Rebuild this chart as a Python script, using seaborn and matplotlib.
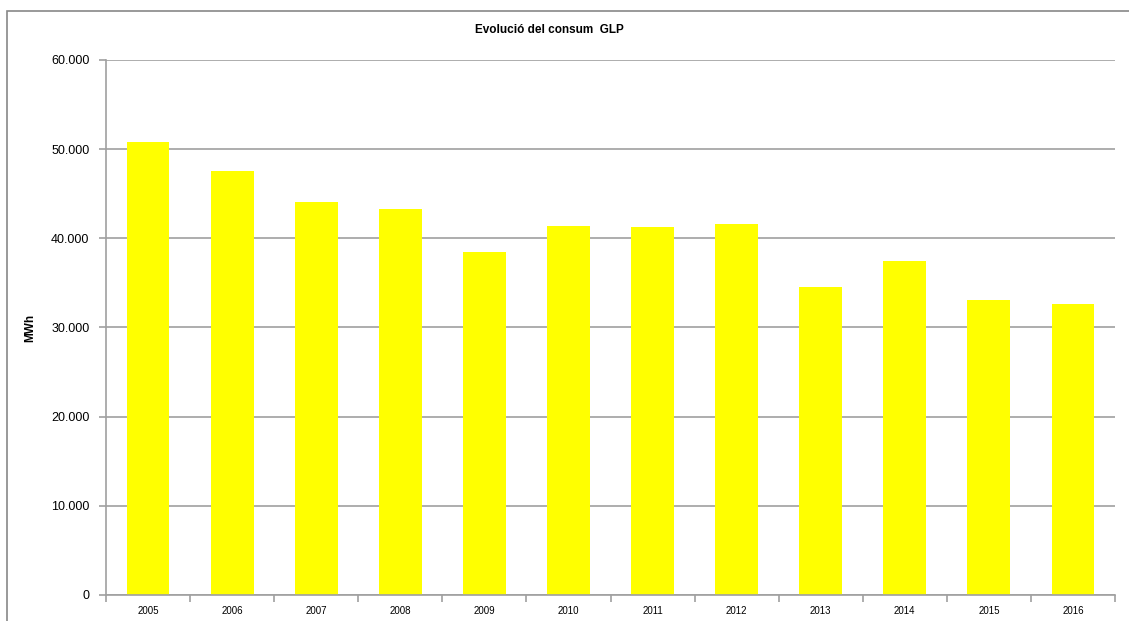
"""Evolució del consum GLP - gràfic de barres amb seaborn."""

import matplotlib
matplotlib.use("Agg")
import matplotlib.pyplot as plt
import matplotlib.ticker as mticker
from matplotlib.patches import Rectangle
import numpy as np
import pandas as pd
import seaborn as sns

anys = ["2005", "2006", "2007", "2008", "2009", "2010",
        "2011", "2012", "2013", "2014", "2015", "2016"]
consum_mwh = [50850, 47500, 44050, 43250, 38450, 41350,
              41250, 41600, 34500, 37450, 33050, 32600]
y_ticks = [0, 10000, 20000, 30000, 40000, 50000, 60000]

df = pd.DataFrame({"any": anys, "consum": consum_mwh})

sns.set_style("white")
plt.rcParams["font.family"] = ["Liberation Sans", "DejaVu Sans"]
plt.rcParams["text.color"] = "black"

fig = plt.figure(figsize=(11.29, 6.21), dpi=100)
ax = fig.add_axes([0.0939, 0.0419, 0.8937, 0.8615])

sns.barplot(data=df, x="any", y="consum", color="#ffff00", width=0.51,
            saturation=1, edgecolor="none", ax=ax)

# Eixos i reixa a l'estil Excel
ax.set_ylim(0, 60000)
ax.set_xlim(-0.5, len(anys) - 0.5)
ax.set_yticks(y_ticks)
ax.yaxis.set_major_formatter(
    mticker.FuncFormatter(lambda v, p: f"{int(v):,}".replace(",", ".")))
ax.grid(axis="y", color="#a0a0a0", linewidth=1.2)
ax.set_axisbelow(True)
for s in ["top", "right"]:
    ax.spines[s].set_visible(False)
for s in ["left", "bottom"]:
    ax.spines[s].set_color("#a0a0a0")
    ax.spines[s].set_linewidth(1.2)

ax.tick_params(axis="y", left=True, length=5, width=1.2, color="#a0a0a0",
               labelsize=9, labelcolor="black", pad=7)
ax.tick_params(axis="x", which="major", length=0, labelsize=7,
               labelcolor="black", pad=8)
ax.set_xticks(np.arange(-0.5, len(anys)), minor=True)
ax.tick_params(axis="x", which="minor", bottom=True, length=5, width=1.2,
               color="#a0a0a0")

ax.set_xlabel("")
ax.set_ylabel("MWh", fontsize=8.5, fontweight="bold", color="black")
ax.yaxis.set_label_coords(-0.069, 0.5)
fig.text(0.487, 0.952, "Evolució del consum  GLP", ha="center", va="center",
         fontsize=8.5, fontweight="bold")

# Marc exterior del gràfic
fig.patches.append(Rectangle((7 / 1129, -0.1), 1.2, 0.1 + (1 - 11 / 621),
                             transform=fig.transFigure, fill=False,
                             edgecolor="#888888", linewidth=1.2))

fig.savefig("out.png", dpi=100)
